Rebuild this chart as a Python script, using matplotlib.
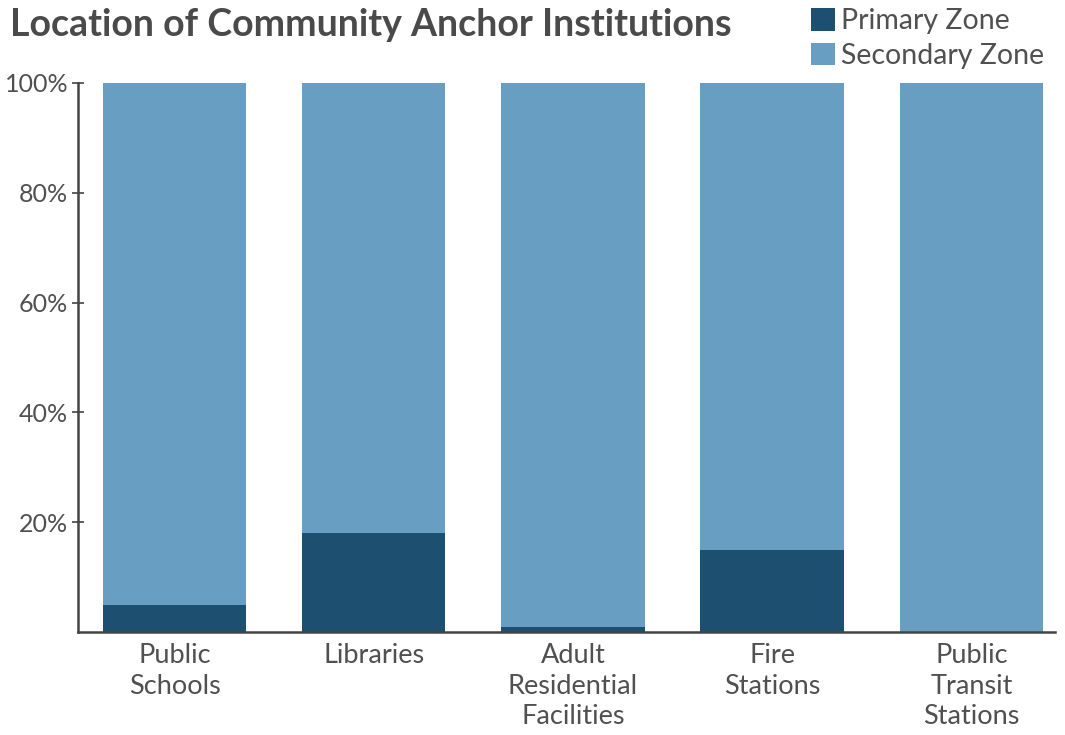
import matplotlib
matplotlib.use("Agg")
import matplotlib.pyplot as plt
from matplotlib.patches import Patch
import numpy as np

categories = ["Public\nSchools", "Libraries", "Adult\nResidential\nFacilities",
              "Fire\nStations", "Public\nTransit\nStations"]
primary = [5, 18, 1, 15, 0]
secondary = [100 - p for p in primary]
yticks = [20, 40, 60, 80, 100]
ytick_labels = ["20%", "40%", "60%", "80%", "100%"]

PRIMARY_COLOR = "#1d4f70"
SECONDARY_COLOR = "#689ec2"
TEXT_COLOR = "#4a4a4a"
LABEL_COLOR = "#505050"
AXIS_COLOR = "#444444"

plt.rcParams["font.family"] = ["Lato", "DejaVu Sans"]

fig = plt.figure(figsize=(10.65, 7.35), dpi=100)
ax = fig.add_axes([78 / 1065, 1 - 632 / 735, (1055 - 78) / 1065, (632 - 83) / 735])

x = np.arange(len(categories))
width = 0.72
ax.bar(x, primary, width, color=PRIMARY_COLOR, label="Primary Zone")
ax.bar(x, secondary, width, bottom=primary, color=SECONDARY_COLOR, label="Secondary Zone")

ax.set_xlim(-0.485, 4.42)
ax.set_ylim(0, 100)
ax.set_yticks(yticks)
ax.set_yticklabels(ytick_labels)
ax.set_xticks(x)
ax.set_xticklabels(categories, linespacing=1.28)

for side in ("top", "right"):
    ax.spines[side].set_visible(False)
for side in ("left", "bottom"):
    ax.spines[side].set_color(AXIS_COLOR)
    ax.spines[side].set_linewidth(1.8)

ax.tick_params(axis="y", direction="inout", length=8, width=1.2, color=AXIS_COLOR,
               labelsize=18, labelcolor=LABEL_COLOR, pad=3)
ax.tick_params(axis="x", length=0, labelsize=19.5, labelcolor=LABEL_COLOR, pad=8)

fig.text(10 / 1065, 1 - 36 / 735, "Location of Community Anchor Institutions",
         fontsize=27, fontweight="bold", color=TEXT_COLOR, ha="left", va="baseline")

handles = [Patch(facecolor=PRIMARY_COLOR, label="Primary Zone"),
           Patch(facecolor=SECONDARY_COLOR, label="Secondary Zone")]
fig.legend(handles=handles, loc="upper left", bbox_to_anchor=(811 / 1065, 1 - 8 / 735),
           frameon=False, handlelength=0.85, handleheight=0.85,
           handletextpad=0.2, labelspacing=0.3, borderpad=0, borderaxespad=0,
           labelcolor=LABEL_COLOR, prop={"size": 20.5})

fig.savefig("out.png", dpi=100)
